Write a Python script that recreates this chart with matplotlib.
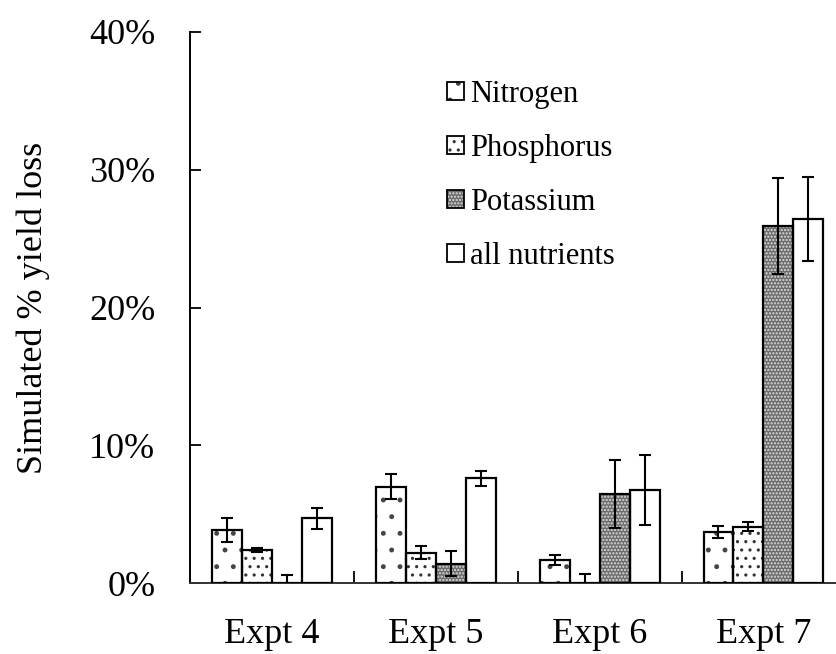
import numpy as np
import matplotlib
matplotlib.use("Agg")
import matplotlib.pyplot as plt
from matplotlib.patches import Patch

plt.rcParams['font.family'] = ['Liberation Serif', 'DejaVu Serif']
plt.rcParams['hatch.linewidth'] = 1.1

expts = ['Expt 4', 'Expt 5', 'Expt 6', 'Expt 7']
nutrients = ['Nitrogen', 'Phosphorus', 'Potassium', 'all nutrients']

# simulated yield loss (%) and error bar half-widths, one row per nutrient
loss = {
    'Nitrogen':      [3.85, 7.0, 1.65, 3.7],
    'Phosphorus':    [2.4, 2.2, 0.0, 4.1],
    'Potassium':     [0.0, 1.4, 6.45, 25.9],
    'all nutrients': [4.7, 7.6, 6.75, 26.4],
}
err = {
    'Nitrogen':      [0.85, 0.9, 0.35, 0.45],
    'Phosphorus':    [0.15, 0.45, 0.65, 0.35],
    'Potassium':     [0.6, 0.9, 2.45, 3.5],
    'all nutrients': [0.75, 0.55, 2.55, 3.05],
}

# fill, hatch colour, hatch pattern
styles = {
    'Nitrogen':      ('white', '#444444', '.'),
    'Phosphorus':    ('white', '#333333', '..'),
    'Potassium':     ('#6a6a6a', '#dddddd', '.....'),
    'all nutrients': ('white', 'white', ''),
}

fig = plt.figure(figsize=(8.37, 6.54), dpi=100)
ax = fig.add_axes([190/837, 71/654, 655.4/837, 551/654])

x = np.arange(len(expts))
w = 0.183
handles = []
for i, name in enumerate(nutrients):
    pos = x + (i - 1.5) * w
    fc, hc, hatch = styles[name]
    ax.bar(pos, loss[name], w, color=fc, edgecolor=hc, linewidth=0, hatch=hatch, zorder=2)
    ax.bar(pos, loss[name], w, fill=False, edgecolor='black', linewidth=1.6, zorder=3)
    ax.errorbar(pos, loss[name], yerr=err[name], fmt='none', ecolor='black',
                elinewidth=1.5, capsize=4.5, capthick=1.5, zorder=4)
    handles.append((Patch(facecolor=fc, edgecolor=hc, linewidth=0, hatch=hatch),
                    Patch(fill=False, edgecolor='black', linewidth=1.3)))

ax.set_xlim(-0.5, 3.5)
ax.set_ylim(0, 40)
ax.set_yticks([0, 10, 20, 30, 40])
ax.set_yticklabels(['0%', '10%', '20%', '30%', '40%'])
ax.set_xticks(x)
ax.set_xticklabels(expts)
ax.set_xticks(x[:-1] + 0.5, minor=True)
ax.tick_params(axis='x', which='major', length=0, pad=25.5, labelsize=26)
ax.tick_params(axis='x', which='minor', direction='in', length=9, width=1.3)
ax.tick_params(axis='y', direction='in', length=8, width=1.3, pad=25, labelsize=26)

for s in ['top', 'right']:
    ax.spines[s].set_visible(False)
ax.spines['left'].set_linewidth(1.4)
ax.spines['bottom'].set_linewidth(1.4)
ax.spines['bottom'].set_color('#333333')

ax.set_ylabel('Simulated % yield loss', fontsize=26)
ax.yaxis.set_label_coords(-0.214, 0.5)

ax.legend(handles, nutrients, loc='upper left', bbox_to_anchor=(0.392, 0.913),
          frameon=False, fontsize=22, handlelength=0.55, handleheight=0.55,
          handletextpad=0.2, labelspacing=0.82, borderpad=0, borderaxespad=0)

fig.savefig('out.png', dpi=100)
